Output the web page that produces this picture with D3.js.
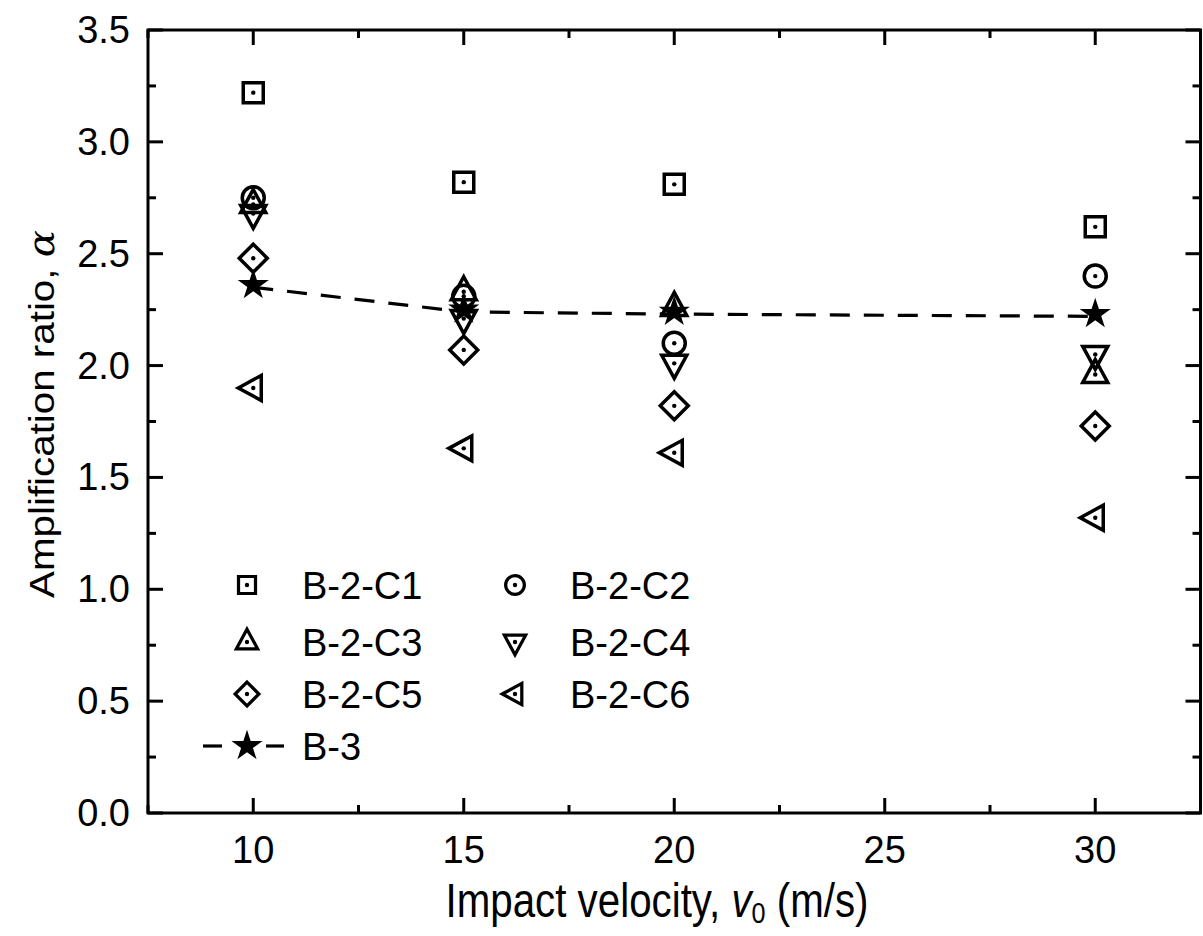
<!DOCTYPE html>
<html>
<head>
<meta charset="utf-8">
<script src="https://cdn.jsdelivr.net/npm/d3@7"></script>
<style>
  body { margin: 0; background: #fff; }
  svg text { font-family: "Liberation Sans", Arial, sans-serif; fill: #000; }
</style>
</head>
<body>
<div id="chart"></div>
<script>
// impact velocities (m/s)
const velocities = [10, 15, 20, 30];

// amplification ratio for each specimen
const seriesNames = ['B-2-C1', 'B-2-C2', 'B-2-C3', 'B-2-C4', 'B-2-C5', 'B-2-C6', 'B-3'];
const c1 = [3.22, 2.82, 2.81, 2.62];
const c2 = [2.75, 2.31, 2.10, 2.40];
const c3 = [2.72, 2.33, 2.26, 1.96];
const c4 = [2.68, 2.21, 2.01, 2.05];
const c5 = [2.48, 2.07, 1.82, 1.73];
const c6 = [1.90, 1.63, 1.61, 1.32];
const b3 = [2.35, 2.24, 2.23, 2.22];

const xTicks = [10, 15, 20, 25, 30];
const yTicks = [0, 0.5, 1.0, 1.5, 2.0, 2.5, 3.0, 3.5];

const width = 1203, height = 936;
const margin = { left: 148, right: 1, top: 30, bottom: 123 };

const svg = d3.select('#chart').append('svg')
    .attr('width', width)
    .attr('height', height);

const x = d3.scaleLinear().domain([7.5, 32.5]).range([margin.left, width - margin.right - 1.5]);
const y = d3.scaleLinear().domain([0, 3.5]).range([height - margin.bottom, margin.top]);

// marker paths, centred on 0,0
function markerPath (kind) {
    switch (kind) {
    case 'square': return 'M-10,-10H10V10H-10Z';
    case 'circle': return 'M-11,0A11,11 0 1,0 11,0A11,11 0 1,0 -11,0Z';
    case 'up': return 'M0,-15L12.5,8L-12.5,8Z';
    case 'down': return 'M0,15L12.5,-8L-12.5,-8Z';
    case 'diamond': return 'M0,-14L14,0L0,14L-14,0Z';
    case 'left': return 'M-15,0L8,-12.5L8,12.5Z';
    case 'star': return d3.symbol(d3.symbolStar, 300)();
    }
}
const kinds = ['square', 'circle', 'up', 'down', 'diamond', 'left'];
const open = [c1, c2, c3, c4, c5, c6];

const plot = svg.append('g');

// dashed line for B-3
plot.append('path')
    .datum(velocities.map((v, i) => [v, b3[i]]))
    .attr('fill', 'none')
    .attr('stroke', '#000')
    .attr('stroke-width', 3.2)
    .attr('stroke-dasharray', '20,14')
    .attr('d', d3.line().x((d) => x(d[0])).y((d) => y(d[1])));

// open markers with a centre dot
open.forEach((vals, s) => {
    const g = plot.selectAll('.s' + s)
        .data(velocities.map((v, i) => [v, vals[i]]))
        .enter().append('g')
        .attr('transform', (d) => 'translate(' + x(d[0]) + ',' + y(d[1]) + ')');
    g.append('path')
        .attr('d', markerPath(kinds[s]))
        .attr('fill', 'none')
        .attr('stroke', '#000')
        .attr('stroke-width', 3.5);
    g.append('circle').attr('r', 2.2).attr('fill', '#000');
});

// filled stars
plot.selectAll('.star')
    .data(velocities.map((v, i) => [v, b3[i]]))
    .enter().append('path')
    .attr('d', markerPath('star'))
    .attr('fill', '#000')
    .attr('transform', (d) => 'translate(' + x(d[0]) + ',' + y(d[1] + 0.01) + ')');

// axes frame
const x0 = x.range()[0], x1 = x.range()[1], y0 = y.range()[0], y1 = y.range()[1];
svg.append('rect')
    .attr('x', x0).attr('y', y1)
    .attr('width', x1 - x0).attr('height', y0 - y1)
    .attr('fill', 'none').attr('stroke', '#000').attr('stroke-width', 3);

// inward ticks on all four sides
const xMinor = d3.range(7.5, 32.6, 2.5);
const yMinor = d3.range(0, 3.51, 0.25);
const ticks = svg.append('g').attr('stroke', '#000').attr('stroke-width', 3);
xMinor.forEach((v) => {
    const len = xTicks.includes(v) ? 15 : 8;
    ticks.append('line').attr('x1', x(v)).attr('x2', x(v)).attr('y1', y0).attr('y2', y0 - len);
    ticks.append('line').attr('x1', x(v)).attr('x2', x(v)).attr('y1', y1).attr('y2', y1 + len);
});
yMinor.forEach((v) => {
    const len = Math.abs(v * 2 - Math.round(v * 2)) < 1e-6 ? 15 : 8;
    ticks.append('line').attr('y1', y(v)).attr('y2', y(v)).attr('x1', x0).attr('x2', x0 + len);
    ticks.append('line').attr('y1', y(v)).attr('y2', y(v)).attr('x1', x1).attr('x2', x1 - len);
});

// tick labels
svg.selectAll('.xl').data(xTicks).enter().append('text')
    .attr('x', (d) => x(d)).attr('y', y0 + 50)
    .attr('text-anchor', 'middle')
    .style('font-size', '38px')
    .text((d) => d);
svg.selectAll('.yl').data(yTicks).enter().append('text')
    .attr('x', x0 - 18).attr('y', (d) => y(d) + 13)
    .attr('text-anchor', 'end')
    .style('font-size', '38px')
    .text((d) => d.toFixed(1));

// axis titles (the source art is stretched, so scale them to fit)
const xt = svg.append('text')
    .attr('transform', 'translate(657,917) scale(0.84,1)')
    .attr('text-anchor', 'middle')
    .style('font-size', '48px');
xt.append('tspan').text('Impact velocity, ');
xt.append('tspan').style('font-style', 'italic').text('v');
xt.append('tspan').attr('dy', 6).style('font-size', '30px').text('0');
xt.append('tspan').attr('dy', -6).text(' (m/s)');

const yt = svg.append('text')
    .attr('transform', 'translate(54,414) rotate(-90) scale(1.12,1)')
    .attr('text-anchor', 'middle')
    .style('font-size', '36px');
yt.append('tspan').text('Amplification ratio, ');
yt.append('tspan').style('font-family', '"DejaVu Serif", serif').style('font-style', 'italic').text('α');

// legend
const legendRows = [585, 642, 694, 746];
const legend = svg.append('g');
seriesNames.forEach((name, i) => {
    const col = i === 6 ? 0 : i % 2;
    const row = Math.floor(i / 2);
    const sx = col === 0 ? 247 : 515;
    const ty = legendRows[row];
    const g = legend.append('g');
    if (i < 6) {
        g.append('path')
            .attr('transform', 'translate(' + sx + ',' + ty + ') scale(0.85)')
            .attr('d', markerPath(kinds[i]))
            .attr('fill', 'none').attr('stroke', '#000').attr('stroke-width', 3.8);
        g.append('circle').attr('cx', sx).attr('cy', ty).attr('r', 2.2).attr('fill', '#000');
    } else {
        [[203, 222], [266, 284]].forEach((seg) => {
            g.append('line').attr('x1', seg[0]).attr('x2', seg[1]).attr('y1', ty).attr('y2', ty)
                .attr('stroke', '#000').attr('stroke-width', 3.2);
        });
        g.append('path').attr('transform', 'translate(' + sx + ',' + ty + ')')
            .attr('d', markerPath('star')).attr('fill', '#000');
    }
    g.append('text')
        .attr('x', col === 0 ? 302 : 570).attr('y', ty + 14)
        .style('font-size', '38px')
        .text(name);
});
</script>
</body>
</html>
